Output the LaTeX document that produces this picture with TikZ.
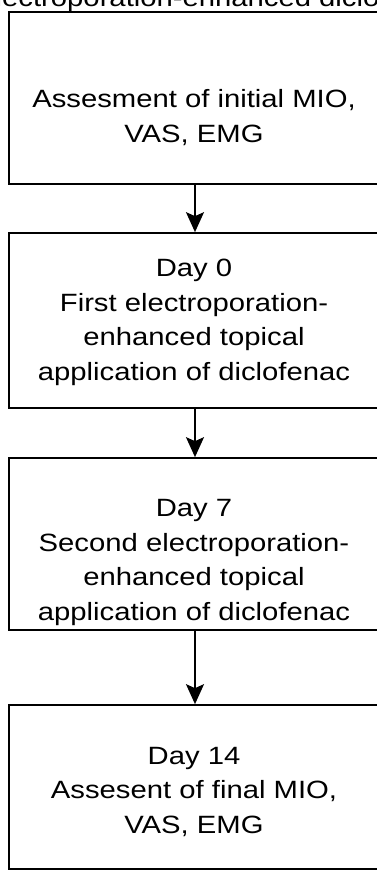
\documentclass[tikz,border=0pt]{standalone}
\usepackage{fontspec}
\setmainfont{Liberation Sans}[FakeStretch=1.17]
\usetikzlibrary{arrows.meta}
\begin{document}
\begin{tikzpicture}[x=1pt,y=-1pt,
  box/.style={draw=black,line width=1.7pt,rectangle,inner sep=0pt},
  txt/.style={align=center,inner sep=0pt,font=\fontsize{25}{34.4}\selectfont,anchor=base},
  arr/.style={line width=1.7pt,-{Stealth[length=20pt,width=18pt,inset=4pt]}}]
\useasboundingbox (0,0) rectangle (376,871);
\node[font=\fontsize{25}{30}\selectfont,anchor=base west,inner sep=0pt] (title) at (-24,6) {Electroporation-enhanced diclofenac};
\node[box,minimum width=372pt,minimum height=172pt] (b1) at (195,98) {};
\node[box,minimum width=372pt,minimum height=175pt] (b2) at (195,320.5) {};
\node[box,minimum width=372pt,minimum height=172pt] (b3) at (195,544) {};
\node[box,minimum width=372pt,minimum height=164pt] (b4) at (195,787) {};
\node[txt] (t1) at (194,142) {Assesment of initial MIO,\\VAS, EMG};
\node[txt] (t2) at (194,380) {Day 0\\First electroporation-\\enhanced topical\\application of diclofenac};
\node[txt] (t3) at (194,620) {Day 7\\Second electroporation-\\enhanced topical\\application of diclofenac};
\node[txt] (t4) at (194,833) {Day 14\\Assesent of final MIO,\\VAS, EMG};
\draw[arr] (b1.south) -- (b2.north);
\draw[arr] (b2.south) -- (b3.north);
\draw[arr] (b3.south) -- (b4.north);
\end{tikzpicture}
\end{document}
